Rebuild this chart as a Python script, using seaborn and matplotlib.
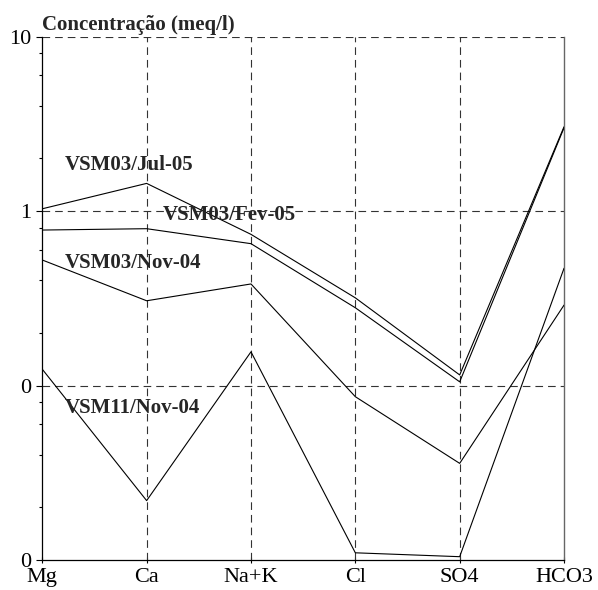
import matplotlib
matplotlib.use("Agg")
import matplotlib.pyplot as plt
import matplotlib.ticker as mticker
import numpy as np
import pandas as pd
import seaborn as sns

# Schoeller diagram: ion concentrations (meq/l) per sample
ions = ["Mg", "Ca", "Na+K", "Cl", "SO4", "HCO3"]

vsm03_jul05 = [1.03, 1.44, 0.735, 0.318, 0.115, 3.04]
vsm03_fev05 = [0.778, 0.792, 0.650, 0.279, 0.105, 3.00]
vsm03_nov04 = [0.524, 0.306, 0.382, 0.0863, 0.0358, 0.289]
vsm11_nov04 = [0.124, 0.0219, 0.156, 0.0110, 0.01045, 0.47]

samples = {
    "VSM03/Jul-05": vsm03_jul05,
    "VSM03/Fev-05": vsm03_fev05,
    "VSM03/Nov-04": vsm03_nov04,
    "VSM11/Nov-04": vsm11_nov04,
}

# label anchors (ion position, concentration) for each sample name
label_pos = {
    "VSM03/Jul-05": (0.22, 1.84),
    "VSM03/Fev-05": (1.15, 0.948),
    "VSM03/Nov-04": (0.22, 0.504),
    "VSM11/Nov-04": (0.22, 0.0743),
}

y_major = [10, 1, 0.1, 0.01]
y_major_labels = ["10", "1", "0", "0"]

rows = []
for name, vals in samples.items():
    for i, (ion, v) in enumerate(zip(ions, vals)):
        rows.append({"amostra": name, "ion": ion, "pos": i, "conc": v})
df = pd.DataFrame(rows)

sns.set_style("white")
plt.rcParams["font.family"] = ["Liberation Serif", "DejaVu Serif"]
plt.rcParams["lines.scale_dashes"] = False

fig = plt.figure(figsize=(5.98, 5.90), dpi=100)
ax = fig.add_axes([0.0707, 0.0508, 0.8725, 0.8873])

grid_kw = dict(color="#333333", linewidth=0.8, dashes=(5.5, 3.6), zorder=1)
for y in [10, 1, 0.1]:
    ax.axhline(y, **grid_kw)
for x in range(1, len(ions) - 1):
    ax.axvline(x, **grid_kw)

sns.lineplot(data=df, x="pos", y="conc", hue="amostra", units="amostra",
             estimator=None, sort=False, palette=["black"] * len(samples),
             linewidth=0.8, legend=False, ax=ax, zorder=3)

ax.set_yscale("log")
ax.set_ylim(0.01, 10)
ax.set_xlim(0, len(ions) - 1)

ax.set_xticks(range(len(ions)))
ax.set_xticklabels(ions)
ax.yaxis.set_major_locator(mticker.FixedLocator(y_major))
ax.yaxis.set_major_formatter(mticker.FixedFormatter(y_major_labels))
ax.yaxis.set_minor_locator(mticker.LogLocator(base=10, subs=(2, 4, 6, 8)))
ax.yaxis.set_minor_formatter(mticker.NullFormatter())

ax.tick_params(axis="y", which="major", direction="out", length=4, width=0.8,
               labelsize=16, pad=4, colors="black", left=True)
ax.tick_params(axis="y", which="minor", direction="out", length=2.5, width=0.8,
               color="black", left=True)
ax.tick_params(axis="x", direction="inout", length=5, width=0.8,
               labelsize=16, pad=3, colors="black", bottom=True)

ax.set_xlabel("")
ax.set_ylabel("")

for side in ["left", "bottom"]:
    ax.spines[side].set_color("black")
    ax.spines[side].set_linewidth(0.9)
ax.spines["right"].set_color("#666666")
ax.spines["right"].set_linewidth(1.0)
ax.spines["top"].set_visible(False)

for name, (x, y) in label_pos.items():
    ax.text(x, y, name, fontsize=15, fontweight="bold", ha="left", va="center",
            zorder=4)

fig.text(0.0707, 0.949, "Concentração (meq/l)", fontsize=15, fontweight="bold",
         ha="left", va="baseline")

fig.savefig("out.png", dpi=100)
